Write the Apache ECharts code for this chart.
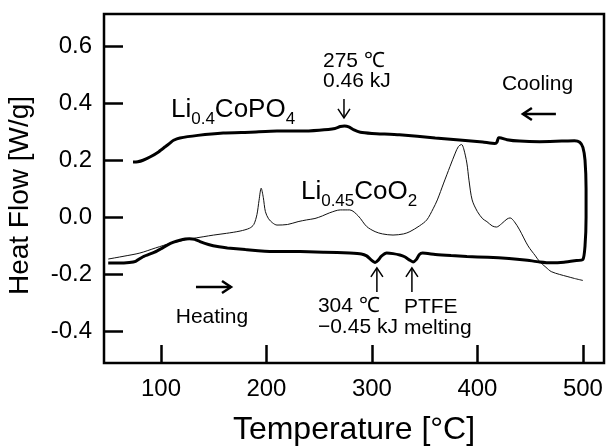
<!DOCTYPE html>
<html><head><meta charset="utf-8">
<script src="https://cdn.jsdelivr.net/npm/echarts@6/dist/echarts.min.js"></script>
<style>html,body{margin:0;padding:0;background:#fff}#c{width:608px;height:448px}</style>
</head><body><div id="c"></div>
<script>
// ---- data ----
const xTicks = [100, 200, 300, 400, 500];
const yTicks = [-0.4, -0.2, 0, 0.2, 0.4, 0.6];

// Li0.4CoPO4 loop (heating, then cooling)
const coPO4Temp = [50, 60, 70, 76, 83, 94, 100, 106, 112, 118, 123, 127, 132, 137, 145, 155, 163, 180, 206, 232, 255, 279, 290, 295, 299, 303, 306, 309, 314, 320, 326.5, 331, 335, 339, 342, 345, 348, 360, 375, 390, 410, 430, 445, 459, 470, 482, 492, 500,
  502, 503, 503, 502, 500, 497, 492,
  480, 459, 440, 428, 421, 420, 418.5, 416.6, 405, 383, 360, 326, 300, 289, 283, 278, 274, 270, 265, 250, 232, 210, 185, 159, 135, 118, 112, 108.5, 104, 98, 90, 83, 78, 73.5];
const coPO4Flow = [-0.16, -0.16, -0.158, -0.154, -0.138, -0.122, -0.11, -0.097, -0.087, -0.08, -0.076, -0.075, -0.077, -0.085, -0.095, -0.103, -0.107, -0.113, -0.12, -0.12, -0.122, -0.125, -0.128, -0.135, -0.148, -0.158, -0.15, -0.136, -0.125, -0.127, -0.132, -0.138, -0.148, -0.156, -0.148, -0.13, -0.125, -0.13, -0.134, -0.137, -0.14, -0.144, -0.149, -0.156, -0.159, -0.157, -0.152, -0.147,
  -0.1, 0.0, 0.1, 0.2, 0.245, 0.263, 0.268,
  0.267, 0.265, 0.267, 0.272, 0.279, 0.279, 0.263, 0.259, 0.264, 0.271, 0.278, 0.289, 0.294, 0.298, 0.306, 0.317, 0.32, 0.318, 0.311, 0.305, 0.302, 0.302, 0.298, 0.295, 0.287, 0.278, 0.27, 0.26, 0.247, 0.23, 0.212, 0.2, 0.195, 0.194];

// Li0.45CoO2 heating curve
const coO2Temp = [50, 65, 80, 95, 110, 127, 140, 150, 162, 175, 184, 188, 191, 193, 195, 197, 199, 202, 206, 210, 220, 230, 238, 246, 253, 260, 270, 279, 287, 295, 303, 310, 320, 330, 336, 345, 352, 358, 362, 368, 374, 379, 382, 385, 387, 390, 392, 395, 400, 405, 409, 414, 418, 423, 428, 431, 435, 440, 448, 455, 459, 465, 470, 478, 485, 492, 500];
const coO2Flow = [-0.146, -0.136, -0.125, -0.107, -0.09, -0.076, -0.068, -0.062, -0.056, -0.048, -0.038, -0.025, 0.01, 0.06, 0.102, 0.07, 0.02, -0.005, -0.02, -0.027, -0.025, -0.015, -0.009, -0.004, 0.005, 0.016, 0.026, 0.026, 0.005, -0.032, -0.05, -0.058, -0.062, -0.058, -0.05, -0.03, -0.009, 0.03, 0.061, 0.12, 0.178, 0.225, 0.248, 0.255, 0.24, 0.19, 0.13, 0.061, 0.02, -0.005, -0.015, -0.03, -0.034, -0.022, -0.006, -0.002, -0.015, -0.044, -0.1, -0.135, -0.155, -0.175, -0.19, -0.2, -0.207, -0.214, -0.221];

// annotation texts (data coordinates)
const noteTexts = ['275 \u2103', '0.46 kJ', 'Cooling', '304 \u2103', '\u22120.45 kJ', 'PTFE', 'melting', 'Heating'];
const noteX = [253.6, 253.6, 423.2, 248.8, 248.8, 330.3, 330.3, 148.3];
const noteY = [0.546, 0.476, 0.467, -0.31, -0.384, -0.314, -0.387, -0.349];
const noteAlign = ['left', 'left', 'left', 'left', 'left', 'left', 'left', 'center'];

// compound labels (position of main-text centre line)
const labelRich = ['{m|Li}{s|0.4}{m|CoPO}{s|4}', '{m|Li}{s|0.45}{m|CoO}{s|2}'];
const labelX = [109.5, 232.7];
const labelY = [0.376, 0.09];

// arrows: start -> end (data coordinates), head at end
const arrowX0 = [273.5, 474.4, 133.2, 304.7, 337.9];
const arrowY0 = [0.414, 0.362, -0.244, -0.261, -0.261];
const arrowX1 = [273.5, 443.1, 166.4, 304.7, 337.9];
const arrowY1 = [0.348, 0.362, -0.244, -0.177, -0.177];
const arrowW = [1.5, 2.5, 2.5, 1.5, 1.5];

// ---- chart ----
const FONT = '"Liberation Sans", Arial, Helvetica, sans-serif';
const chart = echarts.init(document.getElementById('c'), null, {renderer: 'canvas'});
const zip = (a, b) => a.map((v, i) => [v, b[i]]);

chart.setOption({
  animation: false,
  backgroundColor: '#fff',
  grid: {left: 104, right: 4, top: 14, bottom: 85, show: true, borderColor: '#000', borderWidth: 2.5, outerBoundsMode: 'none'},
  xAxis: {
    type: 'value', min: 46, max: 520,
    axisLine: {show: false, onZero: false}, splitLine: {show: false},
    axisTick: {show: true, inside: true, length: 18, lineStyle: {width: 2.5, color: '#000'}, customValues: xTicks},
    axisLabel: {customValues: xTicks, fontSize: 24, color: '#000', margin: 14, fontFamily: FONT},
    name: 'Temperature [°C]', nameLocation: 'middle', nameGap: 51,
    nameTextStyle: {fontSize: 32, color: '#000', fontFamily: FONT}
  },
  yAxis: {
    type: 'value', min: -0.51, max: 0.712,
    axisLine: {show: false, onZero: false}, splitLine: {show: false},
    axisTick: {show: true, inside: true, length: 19, lineStyle: {width: 2.5, color: '#000'}, customValues: yTicks},
    axisLabel: {customValues: yTicks, fontSize: 24, color: '#000', margin: 12, fontFamily: FONT,
      formatter: v => Number(v).toFixed(1)},
    name: 'Heat Flow [W/g]', nameLocation: 'middle', nameGap: 70,
    nameTextStyle: {fontSize: 28, color: '#000', fontFamily: FONT, padding: [0, 14, 0, 0]}
  },
  series: [
    {type: 'line', name: 'Li0.4CoPO4', data: zip(coPO4Temp, coPO4Flow), showSymbol: false, smooth: 0.2,
      lineStyle: {color: '#000', width: 3}, z: 3},
    {type: 'line', name: 'Li0.45CoO2', data: zip(coO2Temp, coO2Flow), showSymbol: false, smooth: 0.3,
      lineStyle: {color: '#111', width: 1}, z: 2}
  ]
});

const px = (x, y) => chart.convertToPixel({gridIndex: 0}, [x, y]);
const graphics = [];
noteTexts.forEach((t, i) => {
  const p = px(noteX[i], noteY[i]);
  graphics.push({type: 'text', x: p[0], y: p[1], z: 10,
    style: {text: t, fontSize: 21, fontFamily: FONT, fill: '#000', textAlign: noteAlign[i], textVerticalAlign: 'middle'}});
});
labelRich.forEach((t, i) => {
  const p = px(labelX[i], labelY[i]);
  graphics.push({type: 'text', x: p[0], y: p[1] - 13, z: 10,
    style: {text: t, fill: '#000', textAlign: 'left', textVerticalAlign: 'top',
      rich: {
        m: {fontSize: 26, fontFamily: FONT, lineHeight: 26, verticalAlign: 'top', fill: '#000'},
        s: {fontSize: 17, fontFamily: FONT, lineHeight: 31, verticalAlign: 'bottom', fill: '#000'}
      }}});
});
arrowX0.forEach((x0, i) => {
  const a = px(x0, arrowY0[i]);
  const b = px(arrowX1[i], arrowY1[i]);
  const dx = b[0] - a[0], dy = b[1] - a[1];
  const len = Math.hypot(dx, dy), ux = dx / len, uy = dy / len;
  const hl = 9, hw = 6;
  graphics.push({type: 'line', z: 10, shape: {x1: a[0], y1: a[1], x2: b[0], y2: b[1]},
    style: {stroke: '#000', lineWidth: arrowW[i]}});
  graphics.push({type: 'polyline', z: 10, shape: {points: [
      [b[0] - ux * hl - uy * hw, b[1] - uy * hl + ux * hw], [b[0], b[1]], [b[0] - ux * hl + uy * hw, b[1] - uy * hl - ux * hw]]},
    style: {stroke: '#000', lineWidth: arrowW[i], fill: null}});
});
chart.setOption({graphic: graphics});
</script>
</body></html>
